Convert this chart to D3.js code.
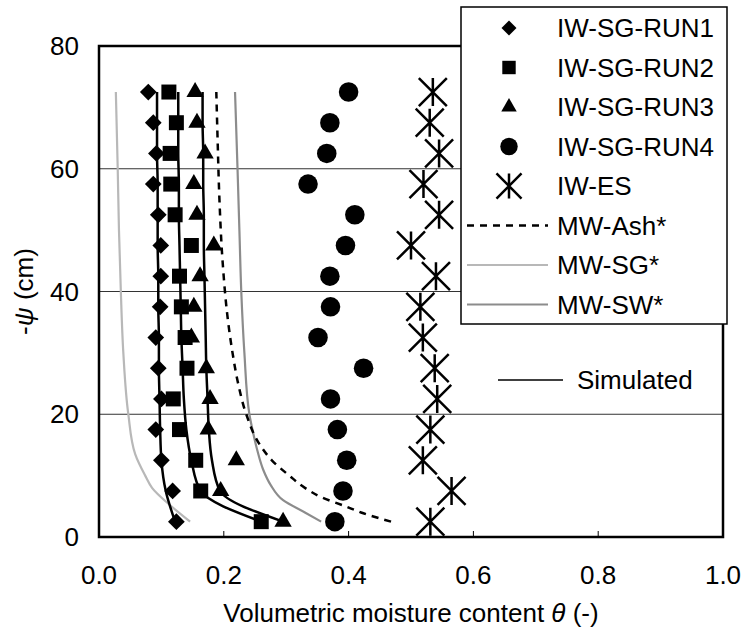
<!DOCTYPE html>
<html>
<head>
<meta charset="utf-8">
<script src="https://cdn.jsdelivr.net/npm/d3@7"></script>
<style>
  body { margin: 0; background: #fff; }
  text { font-family: "Liberation Sans", Arial, sans-serif; fill: #000; }
</style>
</head>
<body>
<div id="canvas"></div>
<script>
"use strict"

/* Data: measured points sit at these suction levels (cm) */
let psiLevels = [2.5, 7.5, 12.5, 17.5, 22.5, 27.5, 32.5, 37.5, 42.5, 47.5, 52.5, 57.5, 62.5, 67.5, 72.5];

let run1 = [0.124, 0.118, 0.100, 0.091, 0.100, 0.095, 0.091, 0.098, 0.099, 0.099, 0.095, 0.087, 0.092, 0.087, 0.079];
let run2 = [0.260, 0.163, 0.155, 0.129, 0.119, 0.141, 0.138, 0.132, 0.129, 0.148, 0.122, 0.115, 0.114, 0.124, 0.112];
let run3 = [0.295, 0.195, 0.220, 0.175, 0.178, 0.172, 0.148, 0.152, 0.162, 0.184, 0.157, 0.152, 0.170, 0.157, 0.154];
let run4 = [0.378, 0.391, 0.397, 0.382, 0.371, 0.424, 0.351, 0.371, 0.370, 0.395, 0.410, 0.335, 0.365, 0.370, 0.400];
let iwES = [0.531, 0.565, 0.519, 0.531, 0.542, 0.538, 0.519, 0.515, 0.540, 0.500, 0.545, 0.520, 0.545, 0.530, 0.535];

/* Simulated curves for runs 1-3, same suction levels */
let simRun1 = [0.122, 0.107, 0.100, 0.098, 0.097, 0.096, 0.096, 0.095, 0.095, 0.094, 0.094, 0.094, 0.093, 0.093, 0.093];
let simRun2 = [0.260, 0.163, 0.148, 0.140, 0.136, 0.134, 0.132, 0.131, 0.130, 0.129, 0.128, 0.128, 0.127, 0.127, 0.127];
let simRun3 = [0.295, 0.194, 0.181, 0.176, 0.174, 0.172, 0.171, 0.170, 0.169, 0.168, 0.168, 0.167, 0.167, 0.166, 0.166];

/* Retention curves from literature (marked *) */
let ashPsi   = [2.5, 4, 5, 6.5, 8, 10, 12.5, 15, 20, 25, 30, 35, 45, 55, 65, 72.5];
let ashTheta = [0.468, 0.42, 0.395, 0.356, 0.33, 0.305, 0.277, 0.258, 0.236, 0.223, 0.214, 0.207, 0.198, 0.193, 0.190, 0.188];
let sgPsi    = [2.5, 5, 8, 10, 13.5, 20, 30, 40, 50, 60, 72.5];
let sgTheta  = [0.146, 0.116, 0.085, 0.074, 0.058, 0.047, 0.039, 0.035, 0.032, 0.030, 0.027];
let swPsi    = [2.5, 4, 6, 8.5, 11, 14, 17, 20, 30, 40, 50, 60, 72.5];
let swTheta  = [0.356, 0.33, 0.295, 0.275, 0.263, 0.254, 0.247, 0.241, 0.233, 0.228, 0.225, 0.222, 0.218];

let xTicks = [0, 0.2, 0.4, 0.6, 0.8, 1.0];
let yTicks = [0, 20, 40, 60, 80];

/* Configuration variables: drawing */
let svgWidth = 742;
let svgHeight = 637;
let plotLeft = 99, plotRight = 723, plotTop = 46, plotBottom = 537;
let fontSize = 26;

let svg = d3.select("#canvas")
    .append("svg")
    .attr("width", svgWidth)
    .attr("height", svgHeight);

svg.append("rect")
    .attr("width", svgWidth)
    .attr("height", svgHeight)
    .attr("fill", "#fff");

let xScale = d3.scaleLinear().domain([0, 1]).range([plotLeft, plotRight]);
let yScale = d3.scaleLinear().domain([0, 80]).range([plotBottom, plotTop]);

/* Gridlines */
svg.append("g")
    .selectAll("line")
    .data(yTicks.filter(function (t) { return t > 0 && t < 80; }))
    .join("line")
    .attr("x1", plotLeft)
    .attr("x2", plotRight)
    .attr("y1", function (t) { return yScale(t); })
    .attr("y2", function (t) { return yScale(t); })
    .attr("stroke", "#333")
    .attr("stroke-width", 1);

/* x ticks point into the plot */
svg.append("g")
    .selectAll("line")
    .data(xTicks.slice(1, -1))
    .join("line")
    .attr("x1", function (t) { return xScale(t); })
    .attr("x2", function (t) { return xScale(t); })
    .attr("y1", plotBottom)
    .attr("y2", plotBottom - 6)
    .attr("stroke", "#000")
    .attr("stroke-width", 1);

function pairs(psi, theta) {
    return psi.map(function (p, i) { return { psi: p, theta: theta[i] }; });
}

let lineGen = d3.line()
    .x(function (d) { return xScale(d.theta); })
    .y(function (d) { return yScale(d.psi); })
    .curve(d3.curveMonotoneY);

/* Literature curves */
svg.append("path")
    .attr("d", lineGen(pairs(sgPsi, sgTheta)))
    .attr("fill", "none")
    .attr("stroke", "#b8b8b8")
    .attr("stroke-width", 2.2);

svg.append("path")
    .attr("d", lineGen(pairs(swPsi, swTheta)))
    .attr("fill", "none")
    .attr("stroke", "#8c8c8c")
    .attr("stroke-width", 2.2);

svg.append("path")
    .attr("d", lineGen(pairs(ashPsi, ashTheta)))
    .attr("fill", "none")
    .attr("stroke", "#000")
    .attr("stroke-width", 2.5)
    .attr("stroke-dasharray", "7,6");

/* Simulated curves */
[simRun1, simRun2, simRun3].forEach(function (sim) {
    svg.append("path")
        .attr("d", lineGen(pairs(psiLevels, sim)))
        .attr("fill", "none")
        .attr("stroke", "#000")
        .attr("stroke-width", 2.5);
});

/* Marker shapes */
let asterisk = {
    draw: function (context, size) {
        let h = Math.sqrt(size) / 2;
        context.moveTo(0, -h); context.lineTo(0, h);
        context.moveTo(-h, -h); context.lineTo(h, h);
        context.moveTo(h, -h); context.lineTo(-h, h);
    }
};

let seriesInfo = [
    { name: "IW-SG-RUN1", values: run1, type: d3.symbolSquare, size: 140, rotate: 45 },
    { name: "IW-SG-RUN2", values: run2, type: d3.symbolSquare, size: 225, rotate: 0 },
    { name: "IW-SG-RUN3", values: run3, type: d3.symbolTriangle, size: 130, rotate: 0 },
    { name: "IW-SG-RUN4", values: run4, type: d3.symbolCircle, size: 300, rotate: 0 },
    { name: "IW-ES", values: iwES, type: asterisk, size: 784, rotate: 0, stroke: true }
];

function drawMarker(g, s) {
    let path = d3.symbol().type(s.type).size(s.size)();
    g.append("path")
        .attr("d", path)
        .attr("transform", "rotate(" + s.rotate + ")")
        .attr("fill", s.stroke ? "none" : "#000")
        .attr("stroke", s.stroke ? "#000" : "none")
        .attr("stroke-width", 2.5);
}

seriesInfo.forEach(function (s) {
    svg.append("g")
        .selectAll("g")
        .data(pairs(psiLevels, s.values))
        .join("g")
        .attr("transform", function (d) {
            return "translate(" + xScale(d.theta) + "," + yScale(d.psi) + ")";
        })
        .each(function () { drawMarker(d3.select(this), s); });
});

/* Plot border */
svg.append("rect")
    .attr("x", plotLeft)
    .attr("y", plotTop)
    .attr("width", plotRight - plotLeft)
    .attr("height", plotBottom - plotTop)
    .attr("fill", "none")
    .attr("stroke", "#000")
    .attr("stroke-width", 2.5);

/* Tick labels */
svg.append("g")
    .selectAll("text")
    .data(yTicks)
    .join("text")
    .attr("x", plotLeft - 20)
    .attr("y", function (t) { return yScale(t) + 9; })
    .attr("text-anchor", "end")
    .style("font-size", fontSize + "px")
    .text(function (t) { return t; });

svg.append("g")
    .selectAll("text")
    .data(xTicks)
    .join("text")
    .attr("x", function (t) { return xScale(t); })
    .attr("y", 584)
    .attr("text-anchor", "middle")
    .style("font-size", fontSize + "px")
    .text(function (t) { return t.toFixed(1); });

/* Axis titles */
let xTitle = svg.append("text")
    .attr("x", (plotLeft + plotRight) / 2)
    .attr("y", 622)
    .attr("text-anchor", "middle")
    .style("font-size", fontSize + "px");
xTitle.append("tspan").text("Volumetric moisture content ");
xTitle.append("tspan").style("font-style", "italic").text("θ");
xTitle.append("tspan").text(" (-)");

let yTitle = svg.append("text")
    .attr("transform", "translate(33," + (plotTop + plotBottom) / 2 + ") rotate(-90)")
    .attr("text-anchor", "middle")
    .style("font-size", fontSize + "px");
yTitle.append("tspan").text("-");
yTitle.append("tspan").style("font-style", "italic").text("ψ");
yTitle.append("tspan").text(" (cm)");

/* Legend */
let legendX = 461, legendY = 7, legendW = 266, legendH = 317;
let rowY0 = 28, rowStep = 39.5;
let legend = svg.append("g");

legend.append("rect")
    .attr("x", legendX)
    .attr("y", legendY)
    .attr("width", legendW)
    .attr("height", legendH)
    .attr("fill", "#fff")
    .attr("stroke", "#000")
    .attr("stroke-width", 1.5);

seriesInfo.forEach(function (s, i) {
    let g = legend.append("g")
        .attr("transform", "translate(509," + (rowY0 + rowStep * i) + ")");
    drawMarker(g, { type: s.type, size: s.size * 0.8, rotate: s.rotate, stroke: s.stroke });
});

let legendLines = [
    { name: "MW-Ash*", stroke: "#000", width: 2.5, dash: "7,6" },
    { name: "MW-SG*", stroke: "#b8b8b8", width: 2.2, dash: null },
    { name: "MW-SW*", stroke: "#8c8c8c", width: 2.2, dash: null }
];

legendLines.forEach(function (l, i) {
    let y = rowY0 + rowStep * (i + 5);
    legend.append("line")
        .attr("x1", 467)
        .attr("x2", 548)
        .attr("y1", y)
        .attr("y2", y)
        .attr("stroke", l.stroke)
        .attr("stroke-width", l.width)
        .attr("stroke-dasharray", l.dash);
});

let legendNames = seriesInfo.map(function (s) { return s.name; })
    .concat(legendLines.map(function (l) { return l.name; }));

legend.selectAll("text")
    .data(legendNames)
    .join("text")
    .attr("x", 557)
    .attr("y", function (d, i) { return rowY0 + rowStep * i + 9; })
    .style("font-size", fontSize + "px")
    .text(function (d) { return d; });

/* Simulated key */
svg.append("line")
    .attr("x1", 498)
    .attr("x2", 563)
    .attr("y1", 380)
    .attr("y2", 380)
    .attr("stroke", "#000")
    .attr("stroke-width", 1.5);

svg.append("text")
    .attr("x", 577)
    .attr("y", 389)
    .style("font-size", fontSize + "px")
    .text("Simulated");
</script>
</body>
</html>
